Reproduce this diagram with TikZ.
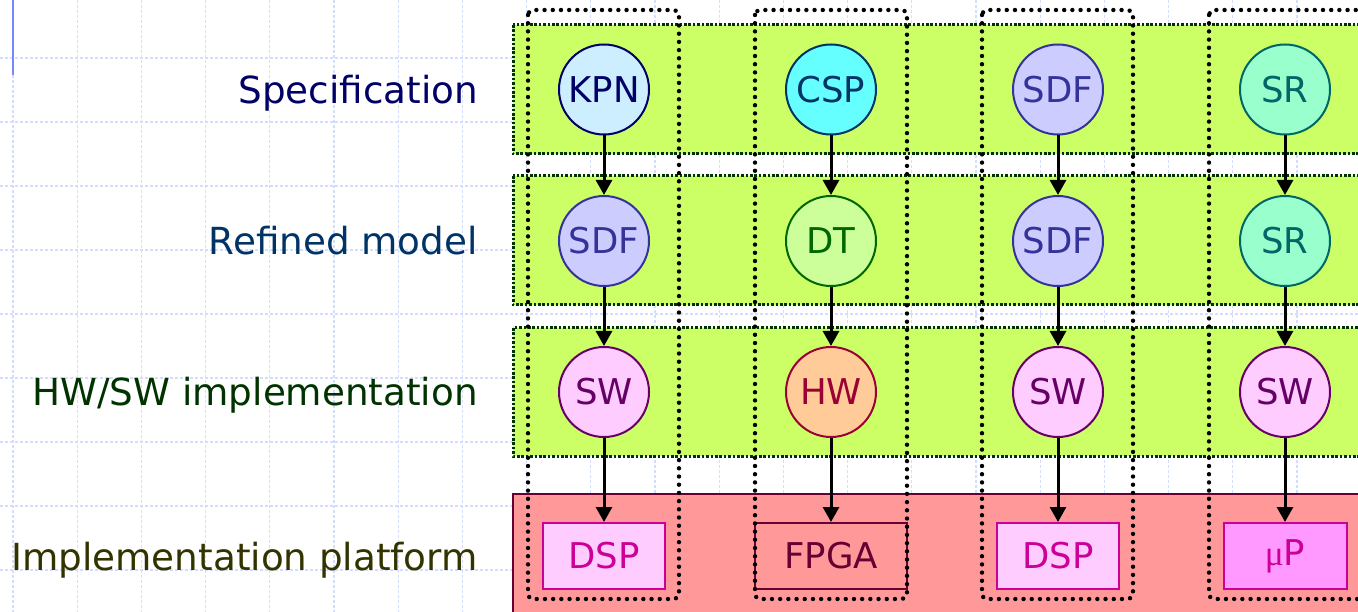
\documentclass[tikz,border=0pt]{standalone}
\usepackage{fontspec}
\setmainfont{DejaVu Sans}
\newfontfamily\greekserif{Liberation Serif}
\usetikzlibrary{arrows.meta}

\definecolor{gridc}{HTML}{D3DEFF}
\definecolor{markc}{HTML}{7788FF}
\definecolor{bandfill}{HTML}{CCFF66}
\definecolor{bandline}{HTML}{003300}
\definecolor{platfill}{HTML}{FF9999}
\definecolor{platline}{HTML}{660033}
\definecolor{kpnfill}{HTML}{CCEEFF}\definecolor{kpnline}{HTML}{000066}
\definecolor{cspfill}{HTML}{66FFFF}\definecolor{cspline}{HTML}{003366}
\definecolor{sdffill}{HTML}{CCCCFF}\definecolor{sdfline}{HTML}{333399}
\definecolor{srfill}{HTML}{99FFCC}\definecolor{srline}{HTML}{006666}
\definecolor{dtfill}{HTML}{CCFF99}\definecolor{dtline}{HTML}{006600}
\definecolor{swfill}{HTML}{FFCCFF}\definecolor{swline}{HTML}{660066}
\definecolor{hwfill}{HTML}{FFCC99}\definecolor{hwline}{HTML}{990033}
\definecolor{dspfill}{HTML}{FFCCFF}\definecolor{dspline}{HTML}{CC0099}
\definecolor{upfill}{HTML}{FF99FF}
\definecolor{lab1}{HTML}{000066}
\definecolor{lab2}{HTML}{003366}
\definecolor{lab3}{HTML}{003300}
\definecolor{lab4}{HTML}{333300}

\tikzset{
  model/.style args={#1/#2}{circle, minimum size=90pt, inner sep=0pt,
    line width=2pt, draw=#2, fill=#1, text=#2,
    font=\fontsize{35.5}{40}\selectfont},
  unit/.style args={#1/#2/#3}{rectangle, minimum width=#3, minimum height=66pt,
    inner sep=0pt, line width=2pt, draw=#2, fill=#1, text=#2,
    font=\fontsize{35.5}{40}\selectfont},
  level/.style={anchor=base east, inner sep=0pt, font=\fontsize{37.3}{44}\selectfont},
  band/.style={fill=bandfill, draw=bandline, line width=3pt,
    dash pattern=on 2.6pt off 1.8pt},
  column/.style={draw=black, line width=4.4pt, line cap=round,
    dash pattern=on 0pt off 8.2pt, rounded corners=5pt},
  flow/.style={line width=3pt, -{Triangle[length=15pt,width=16pt]}},
}

\begin{document}
\begin{tikzpicture}[x=1pt,y=-1pt]
\clip (0,0) rectangle (1358,612);
\fill[white] (0,0) rectangle (1358,612);

% light dashed grid
\foreach \i in {0,...,20}
  \draw[gridc, line width=1.2pt, dash pattern=on 3pt off 2pt] ({13+64.2*\i},0) -- ({13+64.2*\i},612);
\foreach \j in {0,...,8}
  \draw[gridc, line width=1.2pt, dash pattern=on 3pt off 2pt] (0,{58+64*\j}) -- (1358,{58+64*\j});
\draw[markc, line width=2.4pt] (13,0) -- (13,75);

% abstraction levels
\draw[band] (513,25) rectangle (1375,154);
\draw[band] (513,176) rectangle (1375,305);
\draw[band] (513,328) rectangle (1375,456);
\draw[fill=platfill, draw=platline, line width=2pt] (513,494) rectangle (1375,630);

% level labels
\node[level, text=lab1] (l1) at (478,104) {Specification};
\node[level, text=lab2] (l2) at (478,255) {Refined model};
\node[level, text=lab3] (l3) at (478,406) {HW/SW implementation};
\node[level, text=lab4] (l4) at (478,570) {Implementation platform};

% design flows
\node[model=kpnfill/kpnline] (a1) at (604,89.5) {KPN};
\node[model=sdffill/sdfline] (a2) at (604,241) {SDF};
\node[model=swfill/swline]   (a3) at (604,392) {SW};
\node[unit=dspfill/dspline/122pt] (a4) at (604,556) {DSP};

\node[model=cspfill/cspline] (b1) at (831,89.5) {CSP};
\node[model=dtfill/dtline]   (b2) at (831,241) {DT};
\node[model=hwfill/hwline]   (b3) at (831,392) {HW};
\node[unit=platfill/platline/152pt] (b4) at (831,556) {FPGA};

\node[model=sdffill/sdfline] (c1) at (1058,89.5) {SDF};
\node[model=sdffill/sdfline] (c2) at (1058,241) {SDF};
\node[model=swfill/swline]   (c3) at (1058,392) {SW};
\node[unit=dspfill/dspline/122pt] (c4) at (1058,556) {DSP};

\node[model=srfill/srline] (d1) at (1285,89.5) {SR};
\node[model=srfill/srline] (d2) at (1285,241) {SR};
\node[model=swfill/swline] (d3) at (1285,392) {SW};
\node[unit=upfill/dspline/123pt] (d4) at (1285,556) {{\greekserif μ}P};

% dotted columns
\draw[column] (528,10) rectangle (679,599);
\draw[column] (755,10) rectangle (907,599);
\draw[column] (982,10) rectangle (1133,599);
\draw[column] (1209,10) rectangle (1380,599);

% refinement arrows
\foreach \c in {a,b,c,d} {
  \draw[flow] (\c1.south) -- (\c2.north);
  \draw[flow] (\c2.south) -- (\c3.north);
  \draw[flow] (\c3.south) -- (\c4.north);
}
\end{tikzpicture}
\end{document}
